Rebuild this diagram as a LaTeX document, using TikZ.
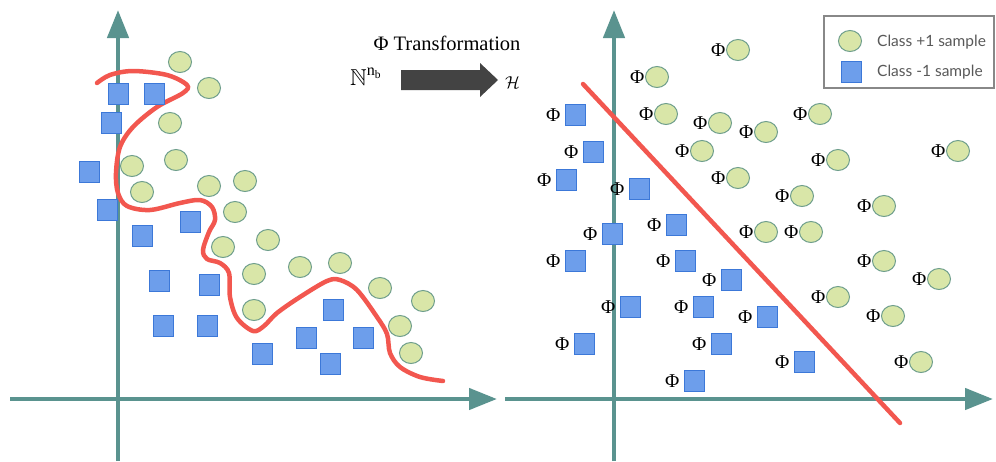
\documentclass[tikz,border=0pt]{standalone}
\usepackage{amssymb}
\usepackage{fontspec}
\setmainfont{Liberation Serif}
\newfontfamily\legendfont{Lato}
\usetikzlibrary{shapes.geometric,arrows.meta,positioning}
\definecolor{axiscol}{HTML}{5A938F}
\definecolor{circfill}{HTML}{D9E6A8}
\definecolor{circdraw}{HTML}{6E9E8C}
\definecolor{sqfill}{HTML}{6D9EEB}
\definecolor{sqdraw}{HTML}{3C78D8}
\definecolor{redcurve}{HTML}{F2574F}
\definecolor{arrowgray}{HTML}{434343}
\definecolor{legendtext}{HTML}{595959}
\definecolor{legendbox}{HTML}{888888}
\tikzset{
  axis/.style={draw=axiscol, line width=4.5pt, -{Triangle[length=28pt,width=21pt]}},
  possample/.style={ellipse, draw=circdraw, fill=circfill, line width=1pt, minimum width=23pt, minimum height=21pt, inner sep=0pt},
  negsample/.style={rectangle, draw=sqdraw, fill=sqfill, line width=1pt, minimum width=20pt, minimum height=21pt, inner sep=0pt},
  philabel/.style={inner sep=0pt, font=\fontsize{19.5}{22}\selectfont},
  redline/.style={draw=redcurve, line width=4.5pt, line cap=round},
  legendlabel/.style={inner sep=0pt, anchor=west, text=legendtext, font=\legendfont\fontsize{15.5}{18}\selectfont},
}
\begin{document}
\begin{tikzpicture}[x=1pt,y=-1pt]
\path[use as bounding box] (0,0) rectangle (996,461);
% ---------------- left panel axes
\coordinate (LVb) at (118,461);
\coordinate (LVt) at (118,10);
\coordinate (LHl) at (10,399);
\coordinate (LHr) at (497,399);
\draw[axis] (LVb) -- (LVt);
\draw[axis] (LHl) -- (LHr);
% ---------------- right panel axes
\coordinate (RVb) at (614,461);
\coordinate (RVt) at (614,10);
\coordinate (RHl) at (505,399);
\coordinate (RHr) at (993,399);
\draw[axis] (RVb) -- (RVt);
\draw[axis] (RHl) -- (RHr);
% ---------------- red separating curve (left)
\draw[redline] plot[smooth, tension=0.55] coordinates {
 (97,83) (110,75) (133,71) (167,75) (187,85) (183,93) (157,107) (133,127) (120,147)
 (116,173) (118,193) (127,206) (150,210) (180,203) (200,200) (212,207) (215,220)
 (209,232) (203,250) (207,259) (220,263) (229,273) (230,297) (237,318) (253,331)
 (264,326) (277,313) (300,297) (327,281) (340,280) (357,290) (377,317) (387,334)
 (390,353) (400,367) (420,377) (443,381)};
% ---------------- red separating line (right)
\coordinate (SLa) at (583,84);
\coordinate (SLb) at (900,423);
\draw[redline] (SLa) -- (SLb);
% ---------------- left samples
\foreach \x/\y [count=\i] in {118/94,154/94,111/123,89/172,107/210,142/236,190/222,159/281,209/285,163/326,207/326,262/354,306/338,333/310,363/338,330/364}
  \node[negsample] (ln\i) at (\x,\y) {};
\foreach \x/\y [count=\i] in {180/62,209/88,170/123,132/166,176/160,142/192,209/186,245/181,235/212,268/240,223/247,254/274,300/267,340/263,254/310,380/288,423/301,400/326,411/353}
  \node[possample] (lp\i) at (\x,\y) {};
% ---------------- right samples with Phi
\foreach \x/\y [count=\i] in {738/50,657/77,666/114,720/123,766/132,820/114,702/151,738/178,838/160,958/151,802/196,884/206,766/232,811/232,884/261,939/279,838/297,893/316,921/362}{
  \node[possample] (rp\i) at (\x,\y) {};
  \node[philabel, left=0.5pt of rp\i] (phip\i) {Φ};
}
\foreach \x/\y [count=\i] in {575/115,593/152,566/180,639/189,676/225,612/234,575/261,685/261,731/280,630/307,703/307,767/317,584/344,721/344,804/362,694/381}{
  \node[negsample] (rn\i) at (\x,\y) {};
  \node[philabel, left=4pt of rn\i] (phin\i) {Φ};
}
% ---------------- transformation arrow and labels
\node[font=\fontsize{20.5}{24}\selectfont, inner sep=0pt] (title) at (447,43) {Φ Transformation};
\fill[arrowgray] (401,70) -- (480,70) -- (480,63) -- (498,80) -- (480,97) -- (480,90) -- (401,90) -- cycle;
\node[inner sep=0pt, anchor=base west, font=\fontsize{23}{26}\selectfont] (src) at (350,85) {$\mathbb{N}^{\mathrm{n}_{\mathrm{b}}}$};
\node[inner sep=0pt, anchor=base west, font=\fontsize{17}{20}\selectfont] (dst) at (505,88) {$\mathcal{H}$};
% ---------------- legend
\node[draw=legendbox, line width=1.2pt, minimum width=170pt, minimum height=72pt, inner sep=0pt] (legend) at (909,52) {};
\node[possample] (legpos) at (850,41) {};
\node[negsample] (legneg) at (851,72) {};
\node[legendlabel] (legtxt1) at (877,42) {Class +1 sample};
\node[legendlabel] (legtxt2) at (877,72) {Class -1 sample};
\end{tikzpicture}
\end{document}
